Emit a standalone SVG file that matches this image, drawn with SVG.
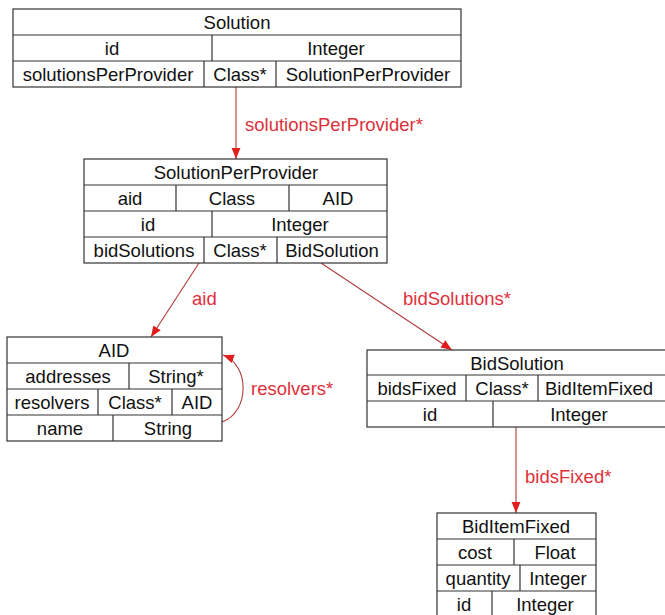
<svg xmlns="http://www.w3.org/2000/svg" width="665" height="615" viewBox="0 0 665 615">
<defs>
<style>
.box{fill:#fff;stroke:#333;stroke-width:1.2}
.ln{stroke:#333;stroke-width:1.2;fill:none}
text{font-family:"Liberation Sans",Arial,sans-serif;font-size:18.5px;fill:#111;text-anchor:middle;dominant-baseline:central}
.lbl{fill:#e0303a;text-anchor:start}
.edge{stroke:#b23a3a;stroke-width:1.1;fill:none}
</style>
<marker id="arr" viewBox="0 0 10 10" refX="10" refY="5" markerWidth="11" markerHeight="11" markerUnits="userSpaceOnUse" orient="auto">
<path d="M0,1 L10,5 L0,9 Z" fill="#e01e1e"/>
</marker>
</defs>
<rect width="665" height="615" fill="#fff"/>
<g id="connectors">
<line class="edge" x1="236" y1="87" x2="236" y2="159" marker-end="url(#arr)"/>
<text class="lbl" x="245" y="124">solutionsPerProvider*</text>
<line class="edge" x1="199" y1="263" x2="151" y2="337" marker-end="url(#arr)"/>
<text class="lbl" x="192" y="298">aid</text>
<line class="edge" x1="321" y1="263" x2="452" y2="350" marker-end="url(#arr)"/>
<text class="lbl" x="403" y="298">bidSolutions*</text>
<path class="edge" d="M222,422 C250,412 250,365 223,355" marker-end="url(#arr)"/>
<text class="lbl" x="251" y="388">resolvers*</text>
<line class="edge" x1="516" y1="427" x2="516" y2="513" marker-end="url(#arr)"/>
<text class="lbl" x="525" y="476">bidsFixed*</text>
</g>
<g id="Solution">
<rect class="box" x="13" y="9" width="448" height="78"/>
<path class="ln" d="M13,35H461M13,61H461M212,35V61M204,61V87M276,61V87"/>
<text x="237" y="22">Solution</text>
<text x="112" y="48">id</text>
<text x="336" y="48">Integer</text>
<text x="108" y="74">solutionsPerProvider</text>
<text x="240" y="74">Class*</text>
<text x="368" y="74">SolutionPerProvider</text>
</g>
<g id="SolutionPerProvider">
<rect class="box" x="84" y="159" width="303" height="104"/>
<path class="ln" d="M84,185H387M84,211H387M84,237H387M176,185V211M289,185V211M212,211V237M204,237V263M277,237V263"/>
<text x="236" y="172">SolutionPerProvider</text>
<text x="130" y="198">aid</text>
<text x="232" y="198">Class</text>
<text x="338" y="198">AID</text>
<text x="148" y="224">id</text>
<text x="300" y="224">Integer</text>
<text x="144" y="250">bidSolutions</text>
<text x="240" y="250">Class*</text>
<text x="332" y="250">BidSolution</text>
</g>
<g id="AID">
<rect class="box" x="7" y="337" width="215" height="104"/>
<path class="ln" d="M7,363H222M7,389H222M7,415H222M129,363V389M98,389V415M172,389V415M113,415V441"/>
<text x="114" y="350">AID</text>
<text x="68" y="376">addresses</text>
<text x="176" y="376">String*</text>
<text x="52" y="402">resolvers</text>
<text x="135" y="402">Class*</text>
<text x="197" y="402">AID</text>
<text x="60" y="428">name</text>
<text x="168" y="428">String</text>
</g>
<g id="BidSolution">
<rect class="box" x="367" y="350" width="300" height="77"/>
<path class="ln" d="M367,375H667M367,401H667M466,375V401M538,375V401M493,401V427"/>
<text x="517" y="363">BidSolution</text>
<text x="417" y="388">bidsFixed</text>
<text x="502" y="388">Class*</text>
<text x="599" y="388">BidItemFixed</text>
<text x="430" y="414">id</text>
<text x="579" y="414">Integer</text>
</g>
<g id="BidItemFixed">
<rect class="box" x="437" y="513" width="159" height="110"/>
<path class="ln" d="M437,539H596M437,565H596M437,591H596M514,539V565M520,565V591M492,591V620"/>
<text x="516" y="526">BidItemFixed</text>
<text x="475" y="552">cost</text>
<text x="555" y="552">Float</text>
<text x="478" y="578">quantity</text>
<text x="558" y="578">Integer</text>
<text x="464" y="604">id</text>
<text x="545" y="604">Integer</text>
</g>
</svg>
